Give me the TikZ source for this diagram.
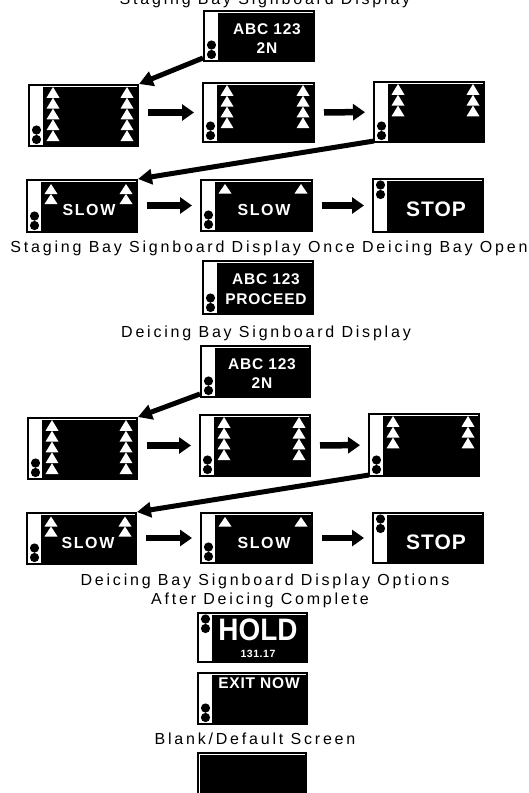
\documentclass[tikz,border=0pt]{standalone}
\usepackage{fontspec}
\usepackage{graphicx}
\setmainfont{Liberation Sans}
\newfontfamily\capfont[LetterSpace=17.5]{Liberation Sans}
\newfontfamily\boardfont[LetterSpace=5]{Liberation Sans}
\newfontfamily\slowfont[LetterSpace=10]{Liberation Sans}
\usetikzlibrary{arrows.meta,calc}

% sign frame with black screen, given by its outer edges (px)
\newcommand{\signboard}[5]{%
  \node[frame,minimum width={#4-#2-2},minimum height={#5-#3-2}] (#1) at ({(#2+#4)/2},{(#3+#5)/2}) {};
  \fill ($(#1.north west)+(15,2.5)$) rectangle ($(#1.south east)+(-2.5,-2.5)$);}
\newcommand{\lampsdown}[1]{\fill ($(#1.south west)+(8.5,-7.5)$) circle (4.6pt) ($(#1.south west)+(8.5,-17)$) circle (4.6pt);}
\newcommand{\lampsup}[1]{\fill ($(#1.north west)+(8.5,7)$) circle (4.6pt) ($(#1.north west)+(8.5,16.5)$) circle (4.6pt);}
% columns of white up-triangles: node, count, height, offset from top
\newcommand{\upmarks}[4]{%
  \foreach \k in {1,...,#2}{
    \fill[white] ($(#1.north west)+(18.5,{#4+#3*\k})$) -- ++(13,0) -- ++(-6.5,-#3) -- cycle;
    \fill[white] ($(#1.north east)+(-18.5,{#4+#3*\k})$) -- ++(13,0) -- ++(-6.5,-#3) -- cycle;
  }}

\begin{document}
\begin{tikzpicture}[x=1pt,y=-1pt,
  frame/.style={draw,line width=2pt,fill=white,inner sep=0pt},
  board/.style={text=white,inner sep=0pt,anchor=base,font=\boardfont\bfseries\fontsize{15.5}{18}\selectfont},
  slow/.style={board,font=\slowfont\bfseries\fontsize{16}{18}\selectfont},
  stop/.style={board,font=\boardfont\bfseries\fontsize{21}{24}\selectfont},
  legend/.style={inner sep=0pt,anchor=base,font=\capfont\fontsize{16}{19}\selectfont},
  ar/.style={line width=6.5pt,-{Triangle[length=12pt,width=16pt]},shorten <=9pt,shorten >=8pt},
  dar/.style={line width=5pt,-{Triangle[length=14pt,width=15pt]}}
]
\path[use as bounding box,fill=white] (0,0) rectangle (529,793);

% staging bay
\node[legend] (title1) at (265,4) {Staging Bay Signboard Display};
\signboard{top1}{203}{10}{315}{62}
\lampsdown{top1}
\node[board] (top1a) at (267,34) {ABC 123};
\node[board] (top1b) at (267,53) {2N};

\signboard{a1}{28}{84}{139}{147}
\signboard{a2}{202}{82}{315}{143}
\signboard{a3}{373}{81}{485}{143}
\upmarks{a1}{5}{10.8}{3}
\upmarks{a2}{4}{10.8}{3}
\upmarks{a3}{3}{10.8}{3}
\lampsdown{a1} \lampsdown{a2} \lampsdown{a3}

\signboard{b1}{26}{179}{138}{233}
\signboard{b2}{200}{179}{313}{232}
\signboard{b3}{372}{178}{484}{233}
\upmarks{b1}{2}{10}{5}
\upmarks{b2}{1}{9.5}{5}
\lampsdown{b1} \lampsdown{b2} \lampsup{b3}
\node[slow] (b1t) at (89,215.5) {SLOW};
\node[slow] (b2t) at (264,215.5) {SLOW};
\node[stop] (b3t) at (436,216.5) {STOP};

\draw[dar] ($(top1.south west)+(0,-4)$) -- (a1.north east);
\draw[ar] (a1.east |- a2) -- (a2);
\draw[ar] (a2) -- (a3);
\draw[dar] ($(a3.south west)+(1,-2)$) -- (b1.north east);
\draw[ar] (b1.east |- b2) -- (b2);
\draw[ar] (b2) -- (b3);

\node[legend] (cap1) at (269,252) {Staging Bay Signboard Display Once Deicing Bay Open};
\signboard{go}{202}{260}{314}{315}
\lampsdown{go}
\node[board] (goa) at (266,284) {ABC 123};
\node[board] (gob) at (266,304) {PROCEED};

% deicing bay
\node[legend] (cap2) at (266,337) {Deicing Bay Signboard Display};
\signboard{top2}{200}{345}{311}{398}
\lampsdown{top2}
\node[board] (top2a) at (262,369) {ABC 123};
\node[board] (top2b) at (262,388) {2N};

\signboard{c1}{27}{417}{138}{480}
\signboard{c2}{199}{414}{311}{477}
\signboard{c3}{368}{413}{480}{477}
\upmarks{c1}{5}{10.8}{3}
\upmarks{c2}{4}{10.8}{3}
\upmarks{c3}{3}{10.8}{3}
\lampsdown{c1} \lampsdown{c2} \lampsdown{c3}

\signboard{d1}{26}{512}{137}{565}
\signboard{d2}{200}{512}{313}{564}
\signboard{d3}{372}{512}{484}{564}
\upmarks{d1}{2}{10}{4.5}
\upmarks{d2}{1}{9.5}{5}
\lampsdown{d1} \lampsdown{d2} \lampsup{d3}
\node[slow] (d1t) at (88,548) {SLOW};
\node[slow] (d2t) at (264,548) {SLOW};
\node[stop] (d3t) at (436,549) {STOP};

\draw[dar] ($(top2.south west)+(0,-4)$) -- (c1.north east);
\draw[ar] (c1.east |- c2) -- (c2);
\draw[ar] (c2) -- (c3);
\draw[dar] ($(c3.south west)+(1,-2)$) -- (d1.north east);
\draw[ar] (d1.east |- d2) -- (d2);
\draw[ar] (d2) -- (d3);

\node[legend] (cap3) at (265,585) {Deicing Bay Signboard Display Options};
\node[legend] (cap4) at (260,604) {After Deicing Complete};

\signboard{hold}{197}{612}{308}{663}
\lampsup{hold}
\node[board,font=\bfseries\fontsize{31}{34}\selectfont] (holdt) at (258,640) {\scalebox{0.9}[1]{HOLD}};
\node[board,font=\boardfont\bfseries\fontsize{10.5}{12}\selectfont] (holdn) at (258,657) {131.17};

\signboard{exit}{197}{672}{308}{725}
\lampsdown{exit}
\node[board] (exitt) at (259,688) {EXIT NOW};

\node[legend] (cap5) at (255,744) {Blank/Default Screen};
\node[frame,minimum width=108,minimum height=52] (blank) at (252,779) {};
\fill ($(blank.north west)+(2.5,2.5)$) rectangle ($(blank.south east)+(-2.5,-2.5)$);
\end{tikzpicture}
\end{document}
